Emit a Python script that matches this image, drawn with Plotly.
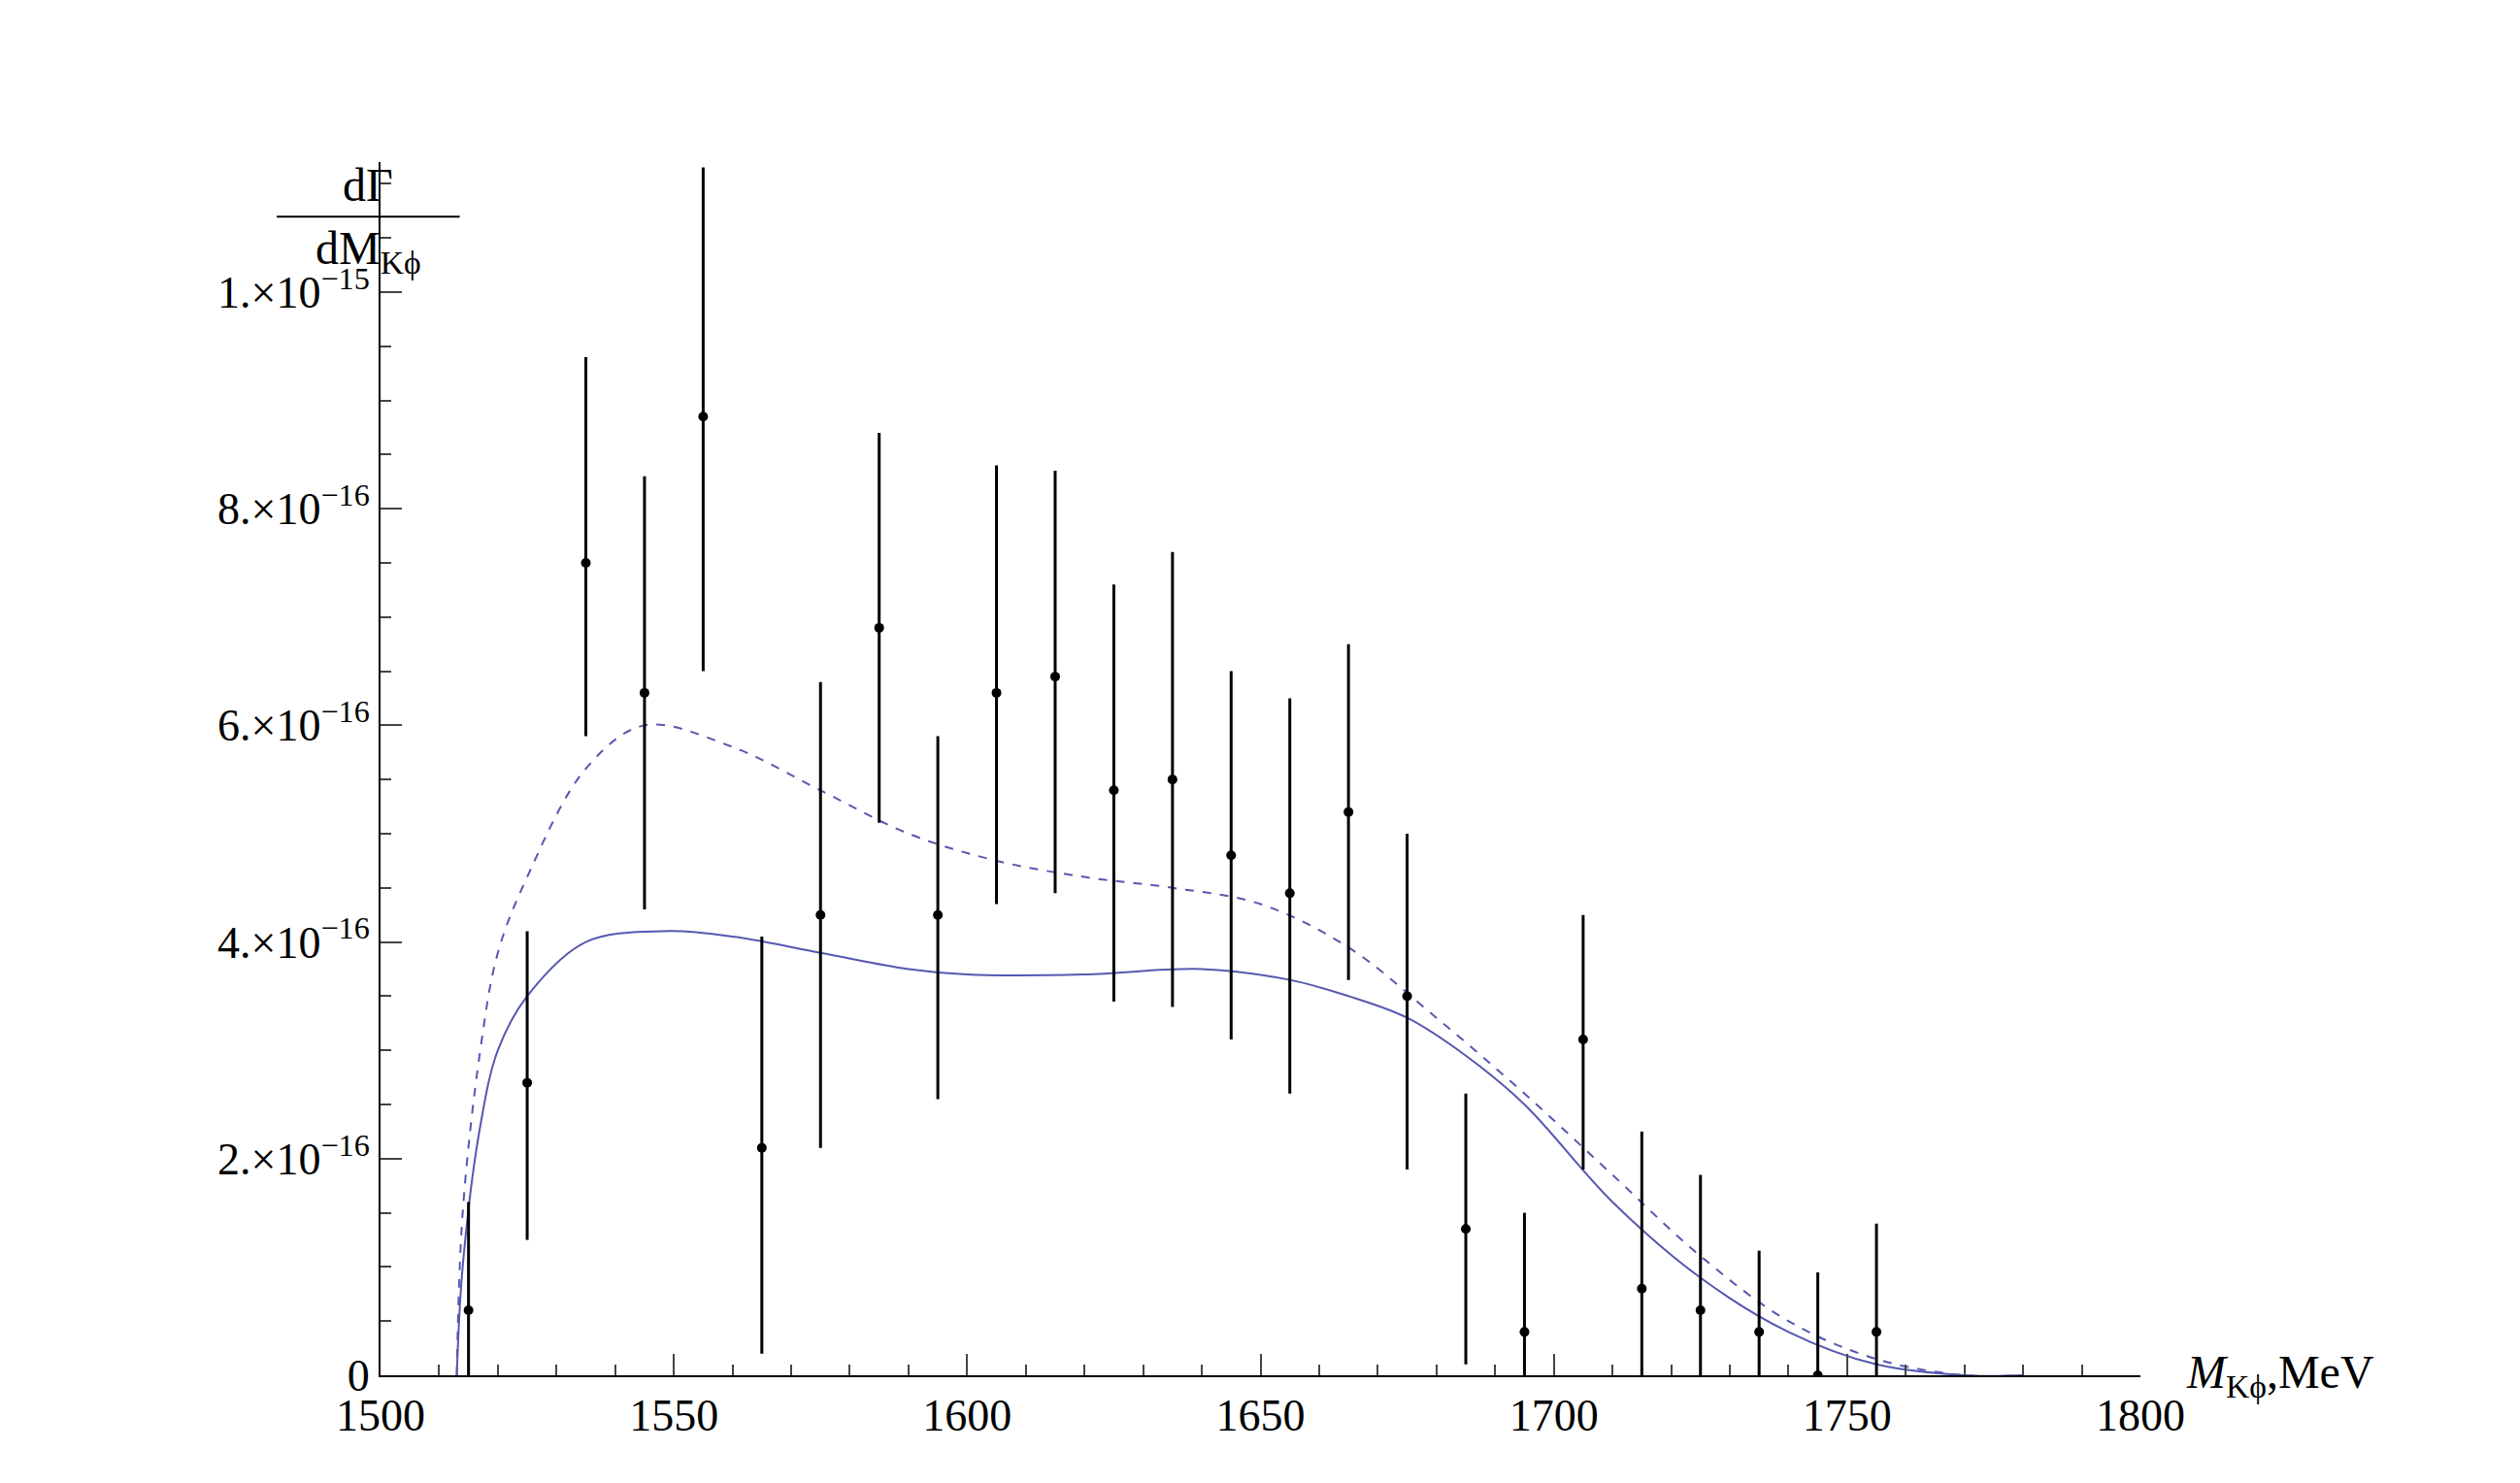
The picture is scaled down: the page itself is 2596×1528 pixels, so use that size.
import plotly.graph_objects as go

# Data points (y in units of 1e-16)
mass = [1515, 1525, 1535, 1545, 1555, 1565, 1575, 1585, 1595, 1605, 1615, 1625,
        1635, 1645, 1655, 1665, 1675, 1685, 1695, 1705, 1715, 1725, 1735, 1745, 1755]
rate = [0.6, 2.7, 7.5, 6.3, 8.85, 2.1, 4.25, 6.9, 4.25, 6.3, 6.45, 5.4,
        5.5, 4.8, 4.45, 5.2, 3.5, 1.35, 0.4, 3.1, 0.8, 0.6, 0.4, 0.0, 0.4]
err_up = [1.0, 1.4, 1.9, 2.0, 2.3, 1.95, 2.15, 1.8, 1.65, 2.1, 1.9, 1.9,
          2.1, 1.7, 1.8, 1.55, 1.5, 1.25, 1.1, 1.15, 1.45, 1.25, 0.75, 0.95, 1.0]
err_dn = [0.6, 1.45, 1.6, 2.0, 2.35, 1.9, 2.15, 1.8, 1.7, 1.95, 2.0, 1.95,
          2.1, 1.7, 1.85, 1.55, 1.6, 1.25, 0.4, 1.2, 0.8, 0.6, 0.4, 0.0, 0.4]

# Model curves
solid_x = [1513, 1514, 1517, 1520, 1525, 1535, 1548, 1560, 1575, 1590, 1600, 1620,
           1640, 1655, 1665, 1675, 1685, 1695, 1710, 1725, 1740, 1755, 1770, 1780]
solid_y = [0, 1.0, 2.3, 3.0, 3.5, 4.0, 4.1, 4.05, 3.9, 3.75, 3.7, 3.7,
           3.75, 3.65, 3.5, 3.3, 2.95, 2.5, 1.6, 0.9, 0.4, 0.1, 0.0, 0.0]
dash_x = [1513, 1514, 1517, 1520, 1525, 1535, 1545, 1560, 1575, 1590, 1605, 1620,
          1635, 1650, 1665, 1680, 1695, 1710, 1725, 1740, 1755, 1770, 1780]
dash_y = [0, 1.5, 3.0, 3.9, 4.6, 5.6, 6.0, 5.8, 5.4, 5.0, 4.75, 4.6,
          4.5, 4.35, 3.95, 3.3, 2.6, 1.85, 1.1, 0.5, 0.15, 0.0, 0.0]

ytick_vals = [0, 2, 4, 6, 8, 10]
ytick_text = ['0', '2.×10<sup>−16</sup>', '4.×10<sup>−16</sup>', '6.×10<sup>−16</sup>',
              '8.×10<sup>−16</sup>', '1.×10<sup>−15</sup>']
xtick_vals = [1500, 1550, 1600, 1650, 1700, 1750, 1800]

curve_color = '#5558b0'
font = 'Liberation Serif'

fig = go.Figure()
fig.add_trace(go.Scatter(x=dash_x, y=dash_y, mode='lines', line_shape='spline',
                         line=dict(color=curve_color, width=2, dash='dash')))
fig.add_trace(go.Scatter(x=solid_x, y=solid_y, mode='lines', line_shape='spline',
                         line=dict(color=curve_color, width=2)))
fig.add_trace(go.Scatter(
    x=mass, y=rate, mode='markers',
    marker=dict(color='black', size=10),
    error_y=dict(type='data', array=err_up, arrayminus=err_dn,
                 color='black', thickness=3, width=0)))

fig.update_layout(
    width=2596, height=1528, showlegend=False,
    plot_bgcolor='white', paper_bgcolor='white',
    margin=dict(l=384, r=399, t=159, b=119),
    font=dict(family=font, size=46, color='black'),
)
fig.update_xaxes(range=[1500, 1800], tickvals=xtick_vals, ticks='inside',
                 ticklen=22, tickwidth=2, showline=True, linecolor='black', linewidth=2,
                 showgrid=False, zeroline=False,
                 minor=dict(dtick=10, tick0=1500, ticks='inside', ticklen=11, tickwidth=1.5))
fig.update_yaxes(range=[0, 11.2], tickvals=ytick_vals, ticktext=ytick_text, ticks='inside',
                 ticklen=22, tickwidth=2, showline=True, linecolor='black', linewidth=2,
                 showgrid=False, zeroline=False,
                 minor=dict(dtick=0.5, tick0=0, ticks='inside', ticklen=11, tickwidth=1.5))

fig.add_annotation(xref='paper', yref='paper', x=1.0, y=0, xanchor='left', yanchor='middle',
                   xshift=45, text='<i>M</i><sub>Kϕ</sub>,MeV', showarrow=False,
                   font=dict(size=48))
fig.add_annotation(xref='paper', yref='paper', x=-0.007, y=0.955, xanchor='center',
                   yanchor='bottom', yshift=4, text='dΓ', showarrow=False, font=dict(size=48))
fig.add_annotation(xref='paper', yref='paper', x=-0.007, y=0.955, xanchor='center',
                   yanchor='top', yshift=-4, text='dM<sub>Kϕ</sub>', showarrow=False,
                   font=dict(size=48))
fig.add_shape(type='line', xref='paper', yref='paper', x0=-0.059, x1=0.045, y0=0.955, y1=0.955,
              line=dict(color='black', width=2))

fig.write_html('out.html')
